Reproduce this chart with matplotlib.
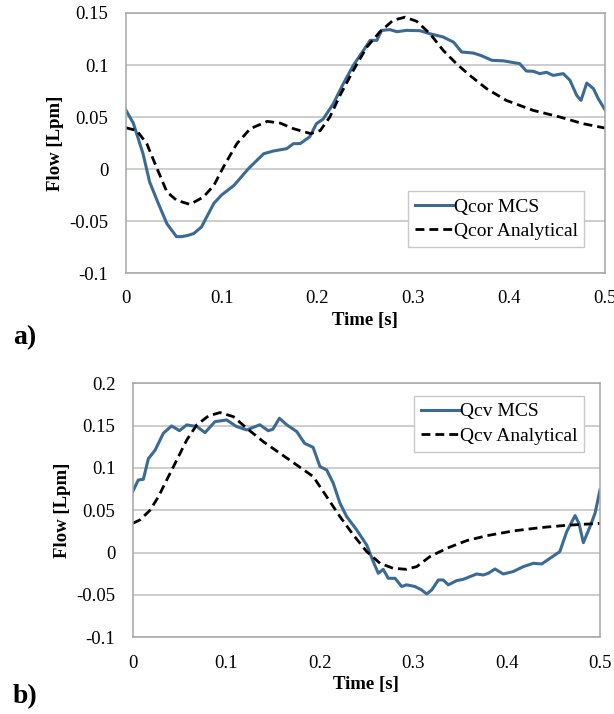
import matplotlib
matplotlib.use("Agg")
import matplotlib.pyplot as plt

# =========================
# DATA
# =========================
# a) coronary flow
t_cor_mcs = [0.0, 0.008, 0.018, 0.025, 0.034, 0.043, 0.053, 0.0585, 0.065, 0.071,
             0.079, 0.092, 0.100, 0.113, 0.128, 0.144, 0.154, 0.168, 0.175, 0.182,
             0.192, 0.199, 0.206, 0.2166, 0.227, 0.2375, 0.248, 0.255, 0.262, 0.267,
             0.2757, 0.283, 0.293, 0.307, 0.3175, 0.331, 0.342, 0.3505, 0.3626, 0.371,
             0.382, 0.394, 0.411, 0.418, 0.425, 0.432, 0.439, 0.446, 0.4565, 0.4635,
             0.4705, 0.475, 0.481, 0.488, 0.493, 0.5]
q_cor_mcs = [0.057, 0.044, 0.015, -0.0125, -0.033, -0.0526, -0.065, -0.065, -0.0638, -0.062,
             -0.0558, -0.033, -0.025, -0.0157, 0.0003, 0.0147, 0.0173, 0.0196, 0.0244, 0.0244,
             0.031, 0.0436, 0.048, 0.0628, 0.082, 0.0997, 0.114, 0.1237, 0.1237, 0.1333,
             0.134, 0.132, 0.1333, 0.133, 0.130, 0.127, 0.122, 0.1125, 0.1115, 0.109,
             0.1045, 0.104, 0.1013, 0.0942, 0.094, 0.0917, 0.093, 0.090, 0.0917, 0.0853,
             0.0708, 0.066, 0.0827, 0.0772, 0.0676, 0.057]

t_cor_an = [0.0, 0.0115, 0.022, 0.032, 0.043, 0.053, 0.067, 0.081, 0.092, 0.102,
            0.116, 0.130, 0.1477, 0.161, 0.175, 0.193, 0.203, 0.213, 0.2236, 0.2375,
            0.2514, 0.265, 0.279, 0.2914, 0.3036, 0.3175, 0.3313, 0.345, 0.359, 0.3766,
            0.397, 0.425, 0.453, 0.477, 0.5]
q_cor_an = [0.0397, 0.037, 0.0244, 0.002, -0.022, -0.030, -0.034, -0.027, -0.0157, 0.002,
            0.0244, 0.0388, 0.0458, 0.0442, 0.0388, 0.034, 0.037, 0.050, 0.0708, 0.0949,
            0.117, 0.1317, 0.143, 0.146, 0.142, 0.130, 0.114, 0.1013, 0.090, 0.0772,
            0.066, 0.0564, 0.050, 0.0436, 0.0394]

# b) coronary venous flow
t_cv_mcs = [0.0, 0.006, 0.0114, 0.0168, 0.024, 0.0328, 0.0417, 0.05, 0.0578, 0.0685,
            0.0774, 0.088, 0.1006, 0.111, 0.122, 0.136, 0.145, 0.150, 0.157, 0.1648,
            0.1755, 0.184, 0.193, 0.2004, 0.2076, 0.2146, 0.2218, 0.229, 0.2397, 0.2504,
            0.2574, 0.2628, 0.268, 0.2735, 0.2807, 0.2878, 0.293, 0.302, 0.309, 0.3146,
            0.32, 0.327, 0.3323, 0.3377, 0.3467, 0.3537, 0.361, 0.368, 0.375, 0.3805,
            0.3876, 0.3965, 0.407, 0.418, 0.4286, 0.4376, 0.4465, 0.457, 0.4644, 0.4733,
            0.4775, 0.4822, 0.4893, 0.4947, 0.5]
q_cv_mcs = [0.072, 0.0858, 0.0866, 0.111, 0.121, 0.141, 0.1496, 0.144, 0.1508, 0.149,
            0.1417, 0.1547, 0.1567, 0.149, 0.1449, 0.151, 0.144, 0.1457, 0.1587, 0.151,
            0.143, 0.129, 0.1244, 0.1016, 0.0976, 0.082, 0.0583, 0.0425, 0.0268, 0.009,
            -0.0106, -0.0244, -0.0197, -0.0303, -0.0303, -0.040, -0.038, -0.040, -0.044, -0.0488,
            -0.044, -0.0323, -0.0323, -0.038, -0.033, -0.0315, -0.0283, -0.0252, -0.0264, -0.0244,
            -0.0193, -0.0252, -0.0224, -0.0165, -0.0126, -0.0134, -0.0067, 0.0012, 0.0248, 0.0437,
            0.0346, 0.0118, 0.0307, 0.0465, 0.074]

t_cv_an = [0.0, 0.0078, 0.0185, 0.0275, 0.0364, 0.047, 0.0578, 0.0685, 0.081, 0.0934,
           0.1077, 0.122, 0.1398, 0.1576, 0.1755, 0.1932, 0.2076, 0.2218, 0.236, 0.2504,
           0.2646, 0.2788, 0.293, 0.3039, 0.318, 0.336, 0.3574, 0.3788, 0.407, 0.4358,
           0.4644, 0.5]
q_cv_an = [0.0346, 0.0386, 0.050, 0.066, 0.0858, 0.109, 0.133, 0.1508, 0.1614, 0.1654,
           0.1606, 0.1469, 0.131, 0.1173, 0.1035, 0.0898, 0.066, 0.0425, 0.021, 0.0012,
           -0.0126, -0.0185, -0.0197, -0.0165, -0.0047, 0.0051, 0.0142, 0.020, 0.0256, 0.0295,
           0.0323, 0.0346]

x_ticks = [0, 0.1, 0.2, 0.3, 0.4, 0.5]
x_labels = ["0", "0.1", "0.2", "0.3", "0.4", "0.5"]
y_ticks_a = [-0.1, -0.05, 0, 0.05, 0.1, 0.15]
y_labels_a = ["-0.1", "-0.05", "0", "0.05", "0.1", "0.15"]
y_ticks_b = [-0.1, -0.05, 0, 0.05, 0.1, 0.15, 0.2]
y_labels_b = ["-0.1", "-0.05", "0", "0.05", "0.1", "0.15", "0.2"]

# =========================
# STYLE
# =========================
BLUE = "#3b6b95"
GRID = "#c0c0c0"
FS = 13.5
plt.rcParams['font.family'] = ['Liberation Serif', 'DejaVu Serif']


def style_axes(ax, yticks, ylabels, ylim):
    ax.set_xlim(0, 0.5)
    ax.set_ylim(*ylim)
    ax.set_xticks(x_ticks)
    ax.set_xticklabels(x_labels)
    ax.set_yticks(yticks)
    ax.set_yticklabels(ylabels)
    ax.tick_params(length=0, labelsize=FS, pad=12.5)
    ax.grid(axis='y', color=GRID, linewidth=1.1)
    ax.set_axisbelow(True)
    for s in ax.spines.values():
        s.set_color("#a6a6a6")
        s.set_linewidth(1.1)
    ax.set_xlabel("Time [s]", fontsize=FS, fontweight='bold', labelpad=3)
    ax.set_ylabel("Flow [Lpm]", fontsize=FS, fontweight='bold', labelpad=4)


def add_legend(ax, anchor):
    ax.legend(loc='upper left', bbox_to_anchor=anchor, fontsize=14,
              fancybox=False, framealpha=1, edgecolor="#c8c8c8", handlelength=2.0,
              handletextpad=0.0, borderpad=0.35, labelspacing=0.35, borderaxespad=0)


fig = plt.figure(figsize=(6.14, 7.14), dpi=100)

# a)
ax1 = fig.add_axes([0.2047, 0.6176, 0.7806, 0.3642])
ax1.plot(t_cor_mcs, q_cor_mcs, color=BLUE, lw=2.2, label="Qcor MCS")
ax1.plot(t_cor_an, q_cor_an, color="black", lw=2.0, ls=(0, (3.2, 1.8)), label="Qcor Analytical")
style_axes(ax1, y_ticks_a, y_labels_a, (-0.1, 0.15))
add_legend(ax1, (0.589, 0.315))

# b)
ax2 = fig.add_axes([0.2161, 0.1074, 0.7611, 0.3558])
ax2.plot(t_cv_mcs, q_cv_mcs, color=BLUE, lw=2.2, label="Qcv MCS")
ax2.plot(t_cv_an, q_cv_an, color="black", lw=2.0, ls=(0, (3.2, 1.8)), label="Qcv Analytical")
style_axes(ax2, y_ticks_b, y_labels_b, (-0.1, 0.2))
add_legend(ax2, (0.602, 0.95))

fig.text(0.021, 1 - 338 / 714, "a)", fontsize=20, fontweight='bold', va='center')
fig.text(0.021, 1 - 697 / 714, "b)", fontsize=20, fontweight='bold', va='center')

fig.savefig("out.png", dpi=100)
